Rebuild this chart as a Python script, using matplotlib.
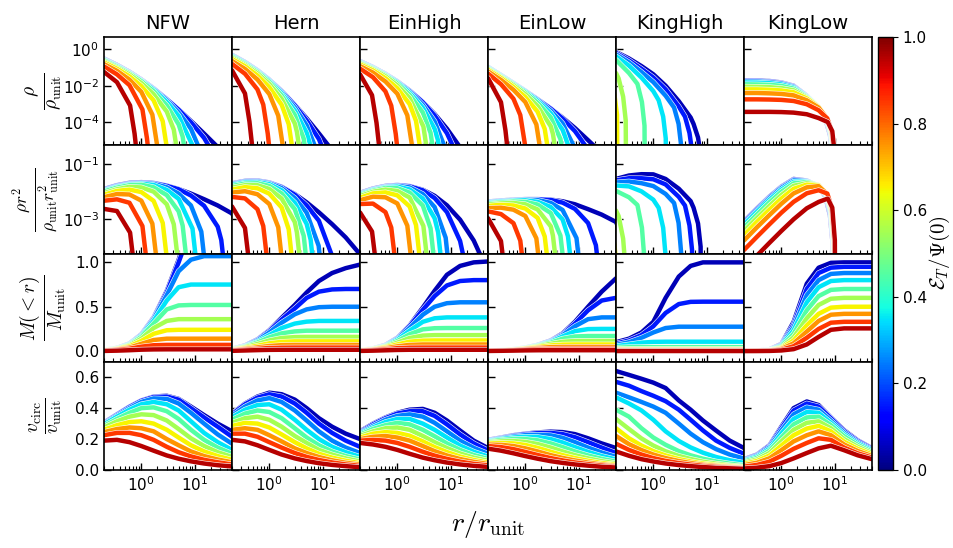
import numpy as np
import matplotlib
matplotlib.use("Agg")
import matplotlib.pyplot as plt
import matplotlib.patheffects as pe
from matplotlib.ticker import NullLocator, NullFormatter, FormatStrFormatter
from matplotlib.cm import ScalarMappable
from matplotlib.colors import Normalize

# radius grid (r / r_unit) shared by every curve
R = [0.2, 0.35, 0.6, 1, 1.7, 3, 5, 8.5, 15, 27, 50]
# truncation energies E_T / Psi(0), one curve each
LEVELS = [0.05, 0.15, 0.25, 0.35, 0.45, 0.55, 0.65, 0.75, 0.85, 0.95]
MODELS = ["NFW", "Hern", "EinHigh", "EinLow", "KingHigh", "KingLow"]

# log10(rho / rho_unit) on R, truncation radius, and the drop just before it
# (tail values sit at TAIL_FRAC * truncation radius)
TAIL_FRAC = [0.7, 0.85, 0.95]

NFW_LOGRHO = [
    [-0.51, -0.855, -1.235, -1.655, -2.145, -2.735, -3.305, -3.935, -4.635, -5.375, -6.205],
    [-0.52, -0.865, -1.245, -1.665, -2.155, -2.745, -3.315, -4.005, -4.875, -6.155],
    [-0.545, -0.89, -1.27, -1.69, -2.18, -2.80, -3.475, -4.37, -6.33],
    [-0.57, -0.915, -1.295, -1.715, -2.22, -2.895, -3.665, -4.945],
    [-0.60, -0.945, -1.325, -1.75, -2.305, -3.085, -4.125],
    [-0.66, -1.005, -1.385, -1.85, -2.465, -3.425, -5.655],
    [-0.72, -1.065, -1.485, -2.02, -2.805, -4.945],
    [-0.81, -1.18, -1.665, -2.335, -3.815],
    [-0.94, -1.375, -1.97, -3.09],
    [-1.24, -1.805, -2.945],
]
NFW_RT = [300, 45, 19, 13, 8.5, 5.8, 3.6, 2.3, 1.5, 0.88]
NFW_TAIL = [
    [-9.5, -11.0, -12.5],
    [-6.78, -8.43, -9.77],
    [-5.72, -7.36, -8.70],
    [-5.28, -6.915, -8.25],
    [-4.80, -6.43, -7.76],
    [-4.42, -6.04, -7.37],
    [-3.956, -5.564, -6.886],
    [-3.591, -5.183, -6.497],
    [-3.311, -4.886, -6.189],
    [-3.088, -4.64, -5.931],
]

HERN_LOGRHO = [
    [-0.30, -0.696, -1.152, -1.665, -2.286, -3.045, -3.795, -4.624, -5.55, -6.549, -7.702],
    [-0.31, -0.706, -1.162, -1.675, -2.296, -3.07, -3.905, -4.934, -6.64],
    [-0.33, -0.726, -1.182, -1.695, -2.336, -3.195, -4.175, -5.854],
    [-0.36, -0.756, -1.212, -1.73, -2.416, -3.365, -4.585],
    [-0.40, -0.796, -1.252, -1.795, -2.531, -3.60, -5.595],
    [-0.46, -0.856, -1.324, -1.905, -2.716, -4.075],
    [-0.53, -0.926, -1.437, -2.08, -3.046],
    [-0.64, -1.076, -1.657, -2.46, -4.426],
    [-0.80, -1.341, -2.207],
    [-1.15, -2.396],
]
HERN_RT = [200, 22, 12, 8.5, 6.3, 4.7, 3.3, 2.1, 1.1, 0.5]
HERN_TAIL = [
    [-10.0, -11.5, -13.0],
    [-6.80, -8.53, -9.91],
    [-5.84, -7.55, -8.93],
    [-5.32, -7.03, -8.40],
    [-4.91, -6.60, -7.97],
    [-4.54, -6.22, -7.59],
    [-4.115, -5.781, -7.138],
    [-3.647, -5.288, -6.631],
    [-3.038, -4.638, -5.958],
    [-2.426, -3.982, -5.275],
]

EINHIGH_LOGRHO = [
    [-0.65, -0.977, -1.348, -1.759, -2.26, -2.888, -3.557, -4.365, -5.387, -6.661, -8.346],
    [-0.66, -0.987, -1.358, -1.769, -2.27, -2.908, -3.637, -4.615, -6.167],
    [-0.68, -1.007, -1.378, -1.789, -2.31, -3.048, -3.967, -5.765],
    [-0.70, -1.027, -1.398, -1.819, -2.385, -3.208, -4.377],
    [-0.73, -1.057, -1.428, -1.879, -2.50, -3.468, -5.637],
    [-0.77, -1.097, -1.483, -1.979, -2.68, -4.088],
    [-0.83, -1.157, -1.588, -2.139, -3.01],
    [-0.92, -1.277, -1.768, -2.439, -4.08],
    [-1.06, -1.532, -2.313],
    [-1.37, -2.647],
]
EINHIGH_RT = [200, 25, 11.5, 8.3, 6.0, 4.4, 3.2, 2.2, 1.1, 0.48]
EINHIGH_TAIL = [
    [-12.0, -13.5, -15.0],
    [-6.906, -8.716, -10.162],
    [-5.507, -7.231, -8.626],
    [-5.022, -6.716, -8.093],
    [-4.597, -6.264, -7.624],
    [-4.241, -5.884, -7.23],
    [-3.932, -5.553, -6.886],
    [-3.629, -5.227, -6.546],
    [-3.096, -4.656, -5.953],
    [-2.521, -4.046, -5.321],
]

EINLOW_LOGRHO = [
    [-0.97, -1.416, -1.854, -2.278, -2.739, -3.252, -3.756, -4.327, -5.0, -5.711, -6.516],
    [-0.98, -1.426, -1.864, -2.288, -2.749, -3.262, -3.806, -4.497, -5.51],
    [-0.99, -1.436, -1.874, -2.298, -2.774, -3.372, -4.076, -5.297],
    [-1.01, -1.456, -1.894, -2.323, -2.839, -3.522, -4.426],
    [-1.04, -1.486, -1.924, -2.378, -2.939, -3.742, -5.376],
    [-1.08, -1.526, -1.976, -2.468, -3.119, -4.232],
    [-1.13, -1.576, -2.069, -2.623, -3.429],
    [-1.21, -1.681, -2.224, -2.898, -4.349],
    [-1.33, -1.916, -2.719, -4.893],
    [-1.58, -2.876],
]
EINLOW_RT = [250, 30, 13, 9.0, 6.5, 4.7, 3.3, 2.3, 1.15, 0.5]
EINLOW_TAIL = [
    [-10.0, -11.5, -13.0],
    [-6.617, -8.253, -9.586],
    [-5.629, -7.258, -8.59],
    [-5.245, -6.856, -8.175],
    [-4.933, -6.534, -7.854],
    [-4.653, -6.245, -7.554],
    [-4.377, -5.952, -7.256],
    [-4.132, -5.706, -7.007],
    [-3.613, -5.174, -6.47],
    [-2.906, -4.464, -5.754],
]

KINGHIGH_LOGRHO = [
    [-0.14, -0.5, -0.92, -1.37, -2.0, -2.85, -3.75],
    [-0.19, -0.6, -1.07, -1.55, -2.2, -3.15, -4.5],
    [-0.27, -0.72, -1.25, -1.8, -2.55, -4.0],
    [-0.38, -0.9, -1.55, -2.3, -4.2],
    [-0.58, -1.3, -2.8],
    [-1.3],
    [],
    [],
    [],
    [],
]
KINGHIGH_RT = [8.1, 5.6, 3.5, 1.8, 0.72, 0.32, 0.22, 0.15, 0.1, 0.07]
KINGHIGH_TAIL = [
    [-4.1, -4.85, -5.8],
    [-3.7, -4.6, -5.6],
    [-3.2, -4.1, -5.3],
    [-2.8, -3.7, -4.9],
    [-1.9, -2.9, -4.2],
    [-1.6, -2.6, -3.9],
    [-1.5, -2.5, -3.6],
    [-1.5, -2.5, -3.6],
    [-1.5, -2.5, -3.6],
    [-1.5, -2.5, -3.6],
]

KINGLOW_LOGRHO = [
    [-1.70, -1.71, -1.74, -1.82, -2.0, -2.55, -3.2, -4.5],
    [-1.72, -1.73, -1.76, -1.84, -2.02, -2.56, -3.19, -4.45],
    [-1.76, -1.77, -1.8, -1.87, -2.05, -2.57, -3.18, -4.4],
    [-1.82, -1.83, -1.86, -1.93, -2.1, -2.59, -3.17, -4.35],
    [-1.92, -1.93, -1.95, -2.01, -2.16, -2.61, -3.16, -4.3],
    [-2.05, -2.06, -2.08, -2.13, -2.25, -2.65, -3.16, -4.27],
    [-2.2, -2.2, -2.22, -2.26, -2.36, -2.7, -3.17, -4.25],
    [-2.4, -2.4, -2.42, -2.45, -2.53, -2.8, -3.2, -4.25],
    [-2.75, -2.75, -2.76, -2.78, -2.84, -3.02, -3.35, -4.25],
    [-3.44, -3.44, -3.44, -3.45, -3.48, -3.57, -3.78, -4.35],
]
KINGLOW_RT = [9.6, 9.7, 9.8, 9.9, 10.0, 10.1, 10.2, 10.3, 10.4, 10.6]
KINGLOW_TAIL = [
    [-3.85, -4.7, -5.8],
    [-3.85, -4.68, -5.8],
    [-3.84, -4.65, -5.8],
    [-3.83, -4.62, -5.8],
    [-3.82, -4.6, -5.8],
    [-3.81, -4.57, -5.8],
    [-3.8, -4.55, -5.8],
    [-3.8, -4.52, -5.8],
    [-3.8, -4.5, -5.8],
    [-4.0, -4.5, -5.8],
]

# enclosed mass M(<r) / M_unit on R
NFW_MASS = [
    [0.014, 0.036, 0.085, 0.19, 0.38, 0.68, 1.03, 1.45, 1.9, 2.4, 2.9],
    [0.0135, 0.035, 0.083, 0.185, 0.37, 0.66, 1.0, 1.38, 1.65, 1.7, 1.7],
    [0.013, 0.034, 0.08, 0.18, 0.36, 0.63, 0.9, 1.03, 1.07, 1.07, 1.07],
    [0.0125, 0.032, 0.076, 0.17, 0.34, 0.57, 0.72, 0.75, 0.75, 0.75, 0.75],
    [0.012, 0.03, 0.07, 0.16, 0.31, 0.47, 0.515, 0.52, 0.52, 0.52, 0.52],
    [0.011, 0.027, 0.063, 0.14, 0.26, 0.34, 0.36, 0.36, 0.36, 0.36, 0.36],
    [0.009, 0.023, 0.053, 0.115, 0.195, 0.235, 0.24, 0.24, 0.24, 0.24, 0.24],
    [0.007, 0.018, 0.04, 0.082, 0.125, 0.14, 0.14, 0.14, 0.14, 0.14, 0.14],
    [0.005, 0.013, 0.027, 0.05, 0.066, 0.07, 0.07, 0.07, 0.07, 0.07, 0.07],
    [0.002, 0.005, 0.01, 0.016, 0.019, 0.02, 0.02, 0.02, 0.02, 0.02, 0.02],
]
HERN_MASS = [
    [0.026, 0.064, 0.133, 0.235, 0.375, 0.52, 0.66, 0.79, 0.88, 0.935, 0.975],
    [0.025, 0.062, 0.128, 0.226, 0.355, 0.48, 0.6, 0.67, 0.695, 0.70, 0.70],
    [0.024, 0.059, 0.12, 0.21, 0.32, 0.415, 0.47, 0.495, 0.50, 0.50, 0.50],
    [0.022, 0.054, 0.108, 0.18, 0.26, 0.31, 0.332, 0.34, 0.34, 0.34, 0.34],
    [0.021, 0.05, 0.097, 0.155, 0.2, 0.222, 0.23, 0.23, 0.23, 0.23, 0.23],
    [0.018, 0.043, 0.08, 0.12, 0.148, 0.158, 0.16, 0.16, 0.16, 0.16, 0.16],
    [0.015, 0.034, 0.06, 0.088, 0.104, 0.11, 0.11, 0.11, 0.11, 0.11, 0.11],
    [0.011, 0.025, 0.042, 0.058, 0.067, 0.07, 0.07, 0.07, 0.07, 0.07, 0.07],
    [0.007, 0.016, 0.026, 0.035, 0.039, 0.04, 0.04, 0.04, 0.04, 0.04, 0.04],
    [0.003, 0.007, 0.011, 0.014, 0.015, 0.015, 0.015, 0.015, 0.015, 0.015, 0.015],
]
EINHIGH_MASS = [
    [0.012, 0.03, 0.07, 0.15, 0.29, 0.49, 0.68, 0.86, 0.96, 1.0, 1.01],
    [0.0118, 0.029, 0.068, 0.145, 0.28, 0.465, 0.62, 0.74, 0.79, 0.8, 0.8],
    [0.0115, 0.028, 0.065, 0.138, 0.26, 0.41, 0.5, 0.54, 0.55, 0.55, 0.55],
    [0.011, 0.027, 0.061, 0.128, 0.23, 0.33, 0.37, 0.38, 0.38, 0.38, 0.38],
    [0.0105, 0.025, 0.056, 0.113, 0.19, 0.245, 0.258, 0.26, 0.26, 0.26, 0.26],
    [0.0095, 0.023, 0.05, 0.095, 0.148, 0.175, 0.18, 0.18, 0.18, 0.18, 0.18],
    [0.0085, 0.02, 0.042, 0.075, 0.106, 0.118, 0.12, 0.12, 0.12, 0.12, 0.12],
    [0.007, 0.016, 0.032, 0.054, 0.07, 0.075, 0.075, 0.075, 0.075, 0.075, 0.075],
    [0.005, 0.011, 0.021, 0.033, 0.039, 0.04, 0.04, 0.04, 0.04, 0.04, 0.04],
    [0.002, 0.005, 0.009, 0.013, 0.015, 0.015, 0.015, 0.015, 0.015, 0.015, 0.015],
]
EINLOW_MASS = [
    [0.005, 0.012, 0.022, 0.04, 0.07, 0.12, 0.2, 0.33, 0.5, 0.67, 0.82],
    [0.0049, 0.0118, 0.0215, 0.039, 0.068, 0.116, 0.19, 0.31, 0.46, 0.57, 0.6],
    [0.0048, 0.0115, 0.021, 0.038, 0.066, 0.11, 0.18, 0.28, 0.36, 0.38, 0.38],
    [0.0047, 0.0112, 0.0205, 0.037, 0.063, 0.104, 0.165, 0.225, 0.248, 0.25, 0.25],
    [0.0045, 0.0107, 0.0195, 0.035, 0.059, 0.095, 0.14, 0.165, 0.17, 0.17, 0.17],
    [0.0042, 0.01, 0.018, 0.032, 0.053, 0.082, 0.105, 0.114, 0.115, 0.115, 0.115],
    [0.0038, 0.009, 0.016, 0.028, 0.045, 0.064, 0.073, 0.075, 0.075, 0.075, 0.075],
    [0.0033, 0.0077, 0.0135, 0.023, 0.035, 0.045, 0.048, 0.048, 0.048, 0.048, 0.048],
    [0.0026, 0.006, 0.01, 0.016, 0.023, 0.026, 0.027, 0.027, 0.027, 0.027, 0.027],
    [0.0015, 0.0033, 0.0055, 0.008, 0.0095, 0.01, 0.01, 0.01, 0.01, 0.01, 0.01],
]
KINGHIGH_MASS = [
    [0.1, 0.14, 0.21, 0.33, 0.6, 0.84, 0.96, 1.0, 1.0, 1.0, 1.0],
    [0.085, 0.12, 0.18, 0.28, 0.43, 0.53, 0.555, 0.557, 0.557, 0.557, 0.557],
    [0.07, 0.1, 0.15, 0.21, 0.26, 0.275, 0.275, 0.275, 0.275, 0.275, 0.275],
    [0.055, 0.075, 0.095, 0.104, 0.106, 0.106, 0.106, 0.106, 0.106, 0.106, 0.106],
    [0.038, 0.044, 0.045, 0.045, 0.045, 0.045, 0.045, 0.045, 0.045, 0.045, 0.045],
    [0.025, 0.025, 0.025, 0.025, 0.025, 0.025, 0.025, 0.025, 0.025, 0.025, 0.025],
    [0.015, 0.015, 0.015, 0.015, 0.015, 0.015, 0.015, 0.015, 0.015, 0.015, 0.015],
    [0.01, 0.01, 0.01, 0.01, 0.01, 0.01, 0.01, 0.01, 0.01, 0.01, 0.01],
    [0.006, 0.006, 0.006, 0.006, 0.006, 0.006, 0.006, 0.006, 0.006, 0.006, 0.006],
    [0.003, 0.003, 0.003, 0.003, 0.003, 0.003, 0.003, 0.003, 0.003, 0.003, 0.003],
]
KINGLOW_MASS = [
    [0.002, 0.006, 0.02, 0.08, 0.33, 0.76, 0.94, 0.995, 1.0, 1.0, 1.0],
    [0.002, 0.006, 0.019, 0.075, 0.3, 0.7, 0.88, 0.94, 0.95, 0.95, 0.95],
    [0.002, 0.005, 0.017, 0.068, 0.27, 0.63, 0.8, 0.87, 0.88, 0.88, 0.88],
    [0.0015, 0.005, 0.015, 0.06, 0.235, 0.55, 0.72, 0.79, 0.8, 0.8, 0.8],
    [0.0013, 0.004, 0.013, 0.05, 0.195, 0.46, 0.62, 0.69, 0.7, 0.7, 0.7],
    [0.001, 0.003, 0.011, 0.04, 0.155, 0.37, 0.52, 0.59, 0.6, 0.6, 0.6],
    [0.001, 0.003, 0.009, 0.032, 0.12, 0.29, 0.42, 0.49, 0.5, 0.5, 0.5],
    [0.0008, 0.002, 0.007, 0.024, 0.088, 0.22, 0.34, 0.41, 0.42, 0.42, 0.42],
    [0.0005, 0.0015, 0.005, 0.015, 0.055, 0.15, 0.25, 0.32, 0.33, 0.33, 0.33],
    [0.0003, 0.0008, 0.002, 0.007, 0.022, 0.075, 0.16, 0.24, 0.256, 0.256, 0.256],
]

# circular velocity v_circ / v_unit on R
NFW_VC = [
    [0.307, 0.36, 0.41, 0.45, 0.475, 0.48, 0.46, 0.41, 0.355, 0.30, 0.25],
    [0.305, 0.358, 0.408, 0.448, 0.472, 0.475, 0.455, 0.40, 0.34, 0.28, 0.215],
    [0.30, 0.352, 0.40, 0.44, 0.463, 0.46, 0.43, 0.37, 0.30, 0.23, 0.17],
    [0.295, 0.345, 0.39, 0.425, 0.44, 0.425, 0.385, 0.315, 0.24, 0.18, 0.13],
    [0.285, 0.33, 0.37, 0.40, 0.405, 0.38, 0.33, 0.26, 0.195, 0.145, 0.105],
    [0.275, 0.315, 0.345, 0.36, 0.355, 0.32, 0.265, 0.205, 0.155, 0.115, 0.085],
    [0.26, 0.29, 0.31, 0.315, 0.30, 0.26, 0.21, 0.16, 0.12, 0.09, 0.066],
    [0.245, 0.265, 0.275, 0.27, 0.25, 0.20, 0.16, 0.12, 0.09, 0.068, 0.05],
    [0.225, 0.24, 0.24, 0.225, 0.195, 0.15, 0.115, 0.088, 0.066, 0.05, 0.036],
    [0.19, 0.195, 0.18, 0.155, 0.125, 0.094, 0.073, 0.056, 0.042, 0.031, 0.023],
]
HERN_VC = [
    [0.365, 0.43, 0.475, 0.50, 0.49, 0.455, 0.40, 0.335, 0.28, 0.235, 0.20],
    [0.36, 0.425, 0.468, 0.49, 0.475, 0.43, 0.37, 0.30, 0.24, 0.19, 0.15],
    [0.35, 0.41, 0.45, 0.465, 0.44, 0.385, 0.32, 0.25, 0.19, 0.145, 0.11],
    [0.34, 0.39, 0.42, 0.425, 0.39, 0.325, 0.26, 0.20, 0.15, 0.115, 0.085],
    [0.325, 0.365, 0.385, 0.375, 0.335, 0.27, 0.21, 0.16, 0.12, 0.09, 0.068],
    [0.305, 0.335, 0.345, 0.325, 0.28, 0.22, 0.175, 0.13, 0.10, 0.075, 0.055],
    [0.285, 0.305, 0.30, 0.275, 0.23, 0.18, 0.14, 0.105, 0.08, 0.06, 0.044],
    [0.26, 0.27, 0.26, 0.225, 0.185, 0.14, 0.11, 0.084, 0.063, 0.047, 0.035],
    [0.235, 0.235, 0.215, 0.18, 0.145, 0.11, 0.085, 0.065, 0.049, 0.036, 0.027],
    [0.195, 0.185, 0.16, 0.13, 0.10, 0.075, 0.058, 0.044, 0.033, 0.025, 0.018],
]
EINHIGH_VC = [
    [0.25, 0.30, 0.34, 0.37, 0.39, 0.395, 0.37, 0.32, 0.255, 0.19, 0.142],
    [0.245, 0.295, 0.335, 0.365, 0.38, 0.38, 0.35, 0.295, 0.23, 0.172, 0.126],
    [0.24, 0.285, 0.325, 0.35, 0.36, 0.345, 0.305, 0.25, 0.19, 0.143, 0.105],
    [0.235, 0.275, 0.31, 0.33, 0.33, 0.30, 0.26, 0.21, 0.158, 0.118, 0.087],
    [0.228, 0.265, 0.29, 0.305, 0.295, 0.26, 0.218, 0.172, 0.13, 0.097, 0.072],
    [0.22, 0.25, 0.27, 0.275, 0.26, 0.22, 0.18, 0.142, 0.107, 0.08, 0.06],
    [0.21, 0.235, 0.245, 0.24, 0.222, 0.185, 0.148, 0.116, 0.087, 0.065, 0.048],
    [0.20, 0.215, 0.22, 0.21, 0.19, 0.155, 0.122, 0.094, 0.071, 0.053, 0.039],
    [0.19, 0.195, 0.19, 0.175, 0.15, 0.118, 0.093, 0.072, 0.054, 0.04, 0.03],
    [0.175, 0.165, 0.15, 0.13, 0.105, 0.08, 0.063, 0.048, 0.036, 0.027, 0.02],
]
EINLOW_VC = [
    [0.195, 0.21, 0.225, 0.235, 0.243, 0.248, 0.245, 0.232, 0.205, 0.172, 0.142],
    [0.193, 0.208, 0.222, 0.232, 0.238, 0.24, 0.232, 0.212, 0.18, 0.145, 0.11],
    [0.19, 0.205, 0.217, 0.225, 0.228, 0.224, 0.208, 0.18, 0.145, 0.113, 0.085],
    [0.187, 0.20, 0.21, 0.215, 0.213, 0.20, 0.178, 0.148, 0.117, 0.09, 0.068],
    [0.183, 0.194, 0.20, 0.20, 0.192, 0.172, 0.148, 0.12, 0.094, 0.072, 0.054],
    [0.178, 0.185, 0.187, 0.182, 0.168, 0.145, 0.12, 0.096, 0.075, 0.057, 0.043],
    [0.172, 0.175, 0.172, 0.162, 0.143, 0.118, 0.096, 0.077, 0.06, 0.045, 0.034],
    [0.165, 0.163, 0.155, 0.14, 0.12, 0.096, 0.078, 0.062, 0.048, 0.036, 0.027],
    [0.155, 0.148, 0.135, 0.117, 0.097, 0.077, 0.062, 0.049, 0.038, 0.029, 0.021],
    [0.138, 0.125, 0.108, 0.09, 0.073, 0.057, 0.046, 0.036, 0.028, 0.021, 0.016],
]
KINGHIGH_VC = [
    [0.64, 0.615, 0.59, 0.565, 0.53, 0.45, 0.39, 0.32, 0.255, 0.19, 0.142],
    [0.57, 0.545, 0.51, 0.48, 0.445, 0.39, 0.325, 0.256, 0.19, 0.143, 0.105],
    [0.50, 0.47, 0.44, 0.41, 0.37, 0.30, 0.235, 0.18, 0.135, 0.10, 0.074],
    [0.47, 0.43, 0.385, 0.325, 0.25, 0.188, 0.146, 0.112, 0.084, 0.063, 0.046],
    [0.39, 0.345, 0.27, 0.21, 0.163, 0.122, 0.095, 0.073, 0.055, 0.041, 0.03],
    [0.33, 0.265, 0.204, 0.158, 0.121, 0.091, 0.071, 0.054, 0.041, 0.03, 0.022],
    [0.27, 0.205, 0.158, 0.122, 0.094, 0.071, 0.055, 0.042, 0.032, 0.024, 0.017],
    [0.22, 0.167, 0.129, 0.10, 0.077, 0.058, 0.045, 0.034, 0.026, 0.019, 0.014],
    [0.17, 0.13, 0.10, 0.077, 0.059, 0.045, 0.035, 0.027, 0.02, 0.015, 0.011],
    [0.12, 0.092, 0.07, 0.055, 0.042, 0.032, 0.025, 0.019, 0.014, 0.011, 0.008],
]
KINGLOW_VC = [
    [0.07, 0.10, 0.16, 0.28, 0.40, 0.443, 0.42, 0.34, 0.258, 0.192, 0.141],
    [0.068, 0.097, 0.155, 0.27, 0.385, 0.43, 0.41, 0.335, 0.252, 0.188, 0.138],
    [0.064, 0.092, 0.147, 0.255, 0.36, 0.405, 0.39, 0.32, 0.242, 0.18, 0.132],
    [0.06, 0.086, 0.137, 0.235, 0.33, 0.375, 0.37, 0.305, 0.23, 0.172, 0.126],
    [0.054, 0.078, 0.125, 0.21, 0.295, 0.34, 0.345, 0.29, 0.218, 0.162, 0.118],
    [0.047, 0.068, 0.11, 0.185, 0.26, 0.305, 0.315, 0.27, 0.20, 0.15, 0.109],
    [0.04, 0.058, 0.094, 0.158, 0.225, 0.268, 0.285, 0.25, 0.183, 0.137, 0.10],
    [0.032, 0.047, 0.076, 0.128, 0.185, 0.225, 0.25, 0.225, 0.165, 0.123, 0.09],
    [0.022, 0.033, 0.054, 0.092, 0.137, 0.175, 0.205, 0.195, 0.145, 0.108, 0.08],
    [0.01, 0.015, 0.025, 0.045, 0.075, 0.11, 0.14, 0.157, 0.128, 0.095, 0.07],
]

ROW_LABELS = [
    r"$\frac{\rho}{\rho_{\rm unit}}$",
    r"$\frac{\rho r^2}{\rho_{\rm unit} r_{\rm unit}^2}$",
    r"$\frac{M(<r)}{M_{\rm unit}}$",
    r"$\frac{v_{\rm circ}}{v_{\rm unit}}$",
]

logrho_tab = [NFW_LOGRHO, HERN_LOGRHO, EINHIGH_LOGRHO, EINLOW_LOGRHO, KINGHIGH_LOGRHO, KINGLOW_LOGRHO]
rt_tab = [NFW_RT, HERN_RT, EINHIGH_RT, EINLOW_RT, KINGHIGH_RT, KINGLOW_RT]
tail_tab = [NFW_TAIL, HERN_TAIL, EINHIGH_TAIL, EINLOW_TAIL, KINGHIGH_TAIL, KINGLOW_TAIL]
mass_tab = [NFW_MASS, HERN_MASS, EINHIGH_MASS, EINLOW_MASS, KINGHIGH_MASS, KINGLOW_MASS]
vc_tab = [NFW_VC, HERN_VC, EINHIGH_VC, EINLOW_VC, KINGHIGH_VC, KINGLOW_VC]

W, H = 954, 548
fig = plt.figure(figsize=(W / 100, H / 100), dpi=100)
cmap = plt.get_cmap("jet")
rr_grid = np.array(R)

px_left, px_w = 104, 128
px_top, px_h = 37, 108.25

lw = 3.2
stroke = [pe.withStroke(linewidth=lw + 0.8, foreground="white")]


def make_panel(row, col):
    left = (px_left + col * px_w) / W
    bottom = 1 - (px_top + (row + 1) * px_h) / H
    ax = fig.add_axes([left, bottom, px_w / W, px_h / H])
    ax.set_xscale("log")
    ax.set_xlim(0.2, 50)
    ax.xaxis.set_minor_formatter(NullFormatter())
    ax.tick_params(which="both", direction="in", top=False, right=False, labelsize=11)
    ax.tick_params(which="major", length=5, width=1)
    ax.tick_params(which="minor", length=3, width=0.8)
    for s in ax.spines.values():
        s.set_linewidth(1.2)
    if row == 0:
        ax.set_yscale("log")
        ax.set_ylim(5.3e-6, 4.8)
        ax.set_yticks([1, 1e-2, 1e-4])
        ax.yaxis.set_minor_locator(NullLocator())
    elif row == 1:
        ax.set_yscale("log")
        ax.set_ylim(5.3e-5, 0.5)
        ax.set_yticks([1e-1, 1e-3])
        ax.yaxis.set_minor_locator(NullLocator())
    elif row == 2:
        ax.set_ylim(-0.12, 1.1)
        ax.set_yticks([0, 0.5, 1.0])
        ax.yaxis.set_major_formatter(FormatStrFormatter("%.1f"))
    else:
        ax.set_ylim(0, 0.7)
        ax.set_yticks([0, 0.2, 0.4, 0.6])
        ax.yaxis.set_major_formatter(FormatStrFormatter("%.1f"))
    if col > 0:
        ax.tick_params(labelleft=False)
    if row < 3:
        ax.tick_params(labelbottom=False)
    return ax


for col, name in enumerate(MODELS):
    axs = [make_panel(row, col) for row in range(4)]
    axs[0].set_title(name, fontsize=14, pad=6)
    for k, lev in enumerate(LEVELS):
        kw = dict(color=cmap(lev), lw=lw, path_effects=stroke, solid_capstyle="round")
        rt = rt_tab[col][k]
        lr = np.array(logrho_tab[col][k], dtype=float)
        rg = rr_grid[:len(lr)]
        keep = rg < 0.65 * rt
        # grid part, the drop near the truncation radius, then zero at rt
        r = np.concatenate([rg[keep], rt * np.array(TAIL_FRAC), [rt]])
        logv = np.concatenate([lr[keep], tail_tab[col][k], [-14.0]])
        rho = 10.0 ** logv
        axs[0].plot(r, rho, **kw)
        axs[1].plot(r, rho * r ** 2, **kw)
        axs[2].plot(rr_grid, mass_tab[col][k], **kw)
        axs[3].plot(rr_grid, vc_tab[col][k], **kw)

# row labels
label_x = [44, 36, 43, 46]
label_size = [20, 18, 20, 20]
for row, lab in enumerate(ROW_LABELS):
    yc = 1 - (px_top + (row + 0.5) * px_h) / H
    fig.text(label_x[row] / W, yc, lab, rotation=90, ha="center", va="center",
             fontsize=label_size[row], math_fontfamily="cm")

fig.text(488 / W, 1 - 525 / H, r"$r/r_{\rm unit}$", ha="center", va="center",
         fontsize=20, math_fontfamily="cm")

# colorbar
cax = fig.add_axes([878 / W, 1 - 470 / H, 15 / W, 433 / H])
sm = ScalarMappable(norm=Normalize(0, 1), cmap=cmap)
cb = fig.colorbar(sm, cax=cax)
cb.set_ticks([0.0, 0.2, 0.4, 0.6, 0.8, 1.0])
cb.ax.tick_params(labelsize=11)
cb.outline.set_linewidth(1.0)
fig.text(940 / W, 1 - 253 / H, r"$\mathcal{E}_T/\Psi(0)$", rotation=90,
         ha="center", va="center", fontsize=15, math_fontfamily="cm")

fig.savefig("out.png", dpi=100)
